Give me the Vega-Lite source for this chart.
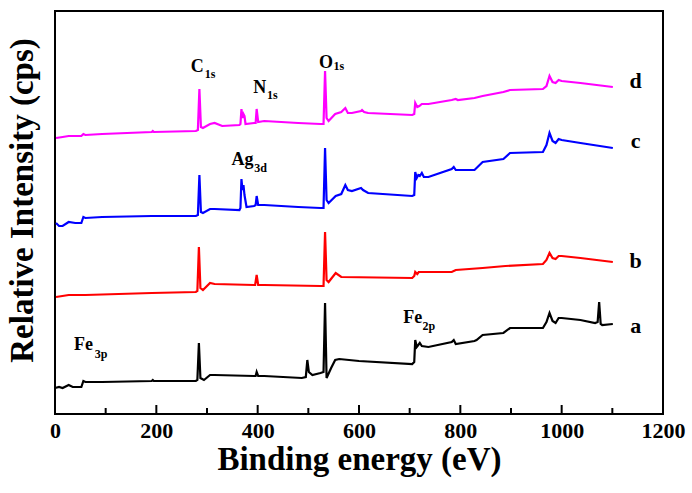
{
  "$schema": "https://vega.github.io/schema/vega-lite/v6.json",
  "width": 608,
  "height": 403,
  "autosize": {"type": "none"},
  "padding": {"left": 55, "top": 11, "right": 29, "bottom": 79},
  "background": "white",
  "config": {
    "view": {"stroke": "black", "strokeWidth": 2},
    "font": "Liberation Serif"
  },
  "datasets": {
    "spectra": [
      {"s":"d","e":2,"i":276},{"s":"d","e":15,"i":277},{"s":"d","e":27,"i":278},{"s":"d","e":52,"i":278},{"s":"d","e":56,"i":280},{"s":"d","e":60,"i":279},{"s":"d","e":93,"i":280},{"s":"d","e":191,"i":282},{"s":"d","e":193,"i":283},{"s":"d","e":195,"i":282},{"s":"d","e":278,"i":283},{"s":"d","e":282,"i":284},{"s":"d","e":285,"i":325},{"s":"d","e":288,"i":287},{"s":"d","e":292,"i":286},{"s":"d","e":306,"i":290},{"s":"d","e":315,"i":291},{"s":"d","e":330,"i":288},{"s":"d","e":364,"i":289},{"s":"d","e":366,"i":290},{"s":"d","e":368,"i":305},{"s":"d","e":370,"i":296},{"s":"d","e":372,"i":300},{"s":"d","e":374,"i":298},{"s":"d","e":376,"i":290},{"s":"d","e":393,"i":291},{"s":"d","e":396,"i":291},{"s":"d","e":398,"i":305},{"s":"d","e":401,"i":292},{"s":"d","e":413,"i":293},{"s":"d","e":480,"i":291},{"s":"d","e":524,"i":290},{"s":"d","e":530,"i":290},{"s":"d","e":533,"i":343},{"s":"d","e":536,"i":296},{"s":"d","e":540,"i":293},{"s":"d","e":553,"i":300},{"s":"d","e":565,"i":302},{"s":"d","e":573,"i":306},{"s":"d","e":578,"i":301},{"s":"d","e":586,"i":301},{"s":"d","e":604,"i":303},{"s":"d","e":606,"i":304},{"s":"d","e":610,"i":302},{"s":"d","e":618,"i":301},{"s":"d","e":705,"i":299},{"s":"d","e":709,"i":300},{"s":"d","e":711,"i":311},{"s":"d","e":715,"i":307},{"s":"d","e":719,"i":308},{"s":"d","e":724,"i":310},{"s":"d","e":737,"i":310},{"s":"d","e":783,"i":314},{"s":"d","e":791,"i":315},{"s":"d","e":795,"i":314},{"s":"d","e":828,"i":316},{"s":"d","e":844,"i":318},{"s":"d","e":885,"i":322},{"s":"d","e":898,"i":324},{"s":"d","e":963,"i":325},{"s":"d","e":970,"i":328},{"s":"d","e":976,"i":338},{"s":"d","e":982,"i":332},{"s":"d","e":988,"i":331},{"s":"d","e":994,"i":334},{"s":"d","e":1000,"i":333},{"s":"d","e":1037,"i":331},{"s":"d","e":1101,"i":327},
      {"s":"c","e":2,"i":191},{"s":"c","e":8,"i":188},{"s":"c","e":15,"i":188},{"s":"c","e":27,"i":192},{"s":"c","e":40,"i":191},{"s":"c","e":52,"i":191},{"s":"c","e":56,"i":197},{"s":"c","e":60,"i":196},{"s":"c","e":93,"i":197},{"s":"c","e":191,"i":198},{"s":"c","e":278,"i":198},{"s":"c","e":282,"i":199},{"s":"c","e":285,"i":239},{"s":"c","e":288,"i":202},{"s":"c","e":292,"i":201},{"s":"c","e":306,"i":205},{"s":"c","e":315,"i":205},{"s":"c","e":364,"i":204},{"s":"c","e":366,"i":206},{"s":"c","e":368,"i":235},{"s":"c","e":370,"i":224},{"s":"c","e":372,"i":229},{"s":"c","e":374,"i":219},{"s":"c","e":378,"i":207},{"s":"c","e":393,"i":208},{"s":"c","e":396,"i":209},{"s":"c","e":398,"i":218},{"s":"c","e":401,"i":209},{"s":"c","e":413,"i":209},{"s":"c","e":480,"i":207},{"s":"c","e":524,"i":206},{"s":"c","e":530,"i":206},{"s":"c","e":533,"i":266},{"s":"c","e":536,"i":214},{"s":"c","e":540,"i":211},{"s":"c","e":554,"i":218},{"s":"c","e":565,"i":220},{"s":"c","e":573,"i":229},{"s":"c","e":578,"i":224},{"s":"c","e":586,"i":223},{"s":"c","e":604,"i":226},{"s":"c","e":608,"i":224},{"s":"c","e":618,"i":221},{"s":"c","e":705,"i":218},{"s":"c","e":709,"i":219},{"s":"c","e":711,"i":242},{"s":"c","e":714,"i":236},{"s":"c","e":717,"i":239},{"s":"c","e":720,"i":238},{"s":"c","e":724,"i":241},{"s":"c","e":728,"i":237},{"s":"c","e":737,"i":237},{"s":"c","e":783,"i":245},{"s":"c","e":787,"i":247},{"s":"c","e":791,"i":244},{"s":"c","e":828,"i":244},{"s":"c","e":844,"i":252},{"s":"c","e":885,"i":255},{"s":"c","e":898,"i":261},{"s":"c","e":963,"i":262},{"s":"c","e":970,"i":269},{"s":"c","e":976,"i":281},{"s":"c","e":982,"i":273},{"s":"c","e":988,"i":271},{"s":"c","e":994,"i":275},{"s":"c","e":1000,"i":274},{"s":"c","e":1037,"i":271},{"s":"c","e":1101,"i":266},
      {"s":"b","e":2,"i":117},{"s":"b","e":27,"i":119},{"s":"b","e":60,"i":119},{"s":"b","e":191,"i":121},{"s":"b","e":278,"i":122},{"s":"b","e":281,"i":123},{"s":"b","e":284,"i":167},{"s":"b","e":287,"i":126},{"s":"b","e":292,"i":124},{"s":"b","e":306,"i":131},{"s":"b","e":315,"i":130},{"s":"b","e":393,"i":129},{"s":"b","e":395,"i":129},{"s":"b","e":398,"i":139},{"s":"b","e":401,"i":129},{"s":"b","e":413,"i":129},{"s":"b","e":524,"i":128},{"s":"b","e":530,"i":128},{"s":"b","e":533,"i":182},{"s":"b","e":536,"i":134},{"s":"b","e":540,"i":132},{"s":"b","e":554,"i":141},{"s":"b","e":565,"i":137},{"s":"b","e":705,"i":136},{"s":"b","e":709,"i":138},{"s":"b","e":711,"i":142},{"s":"b","e":715,"i":140},{"s":"b","e":718,"i":142},{"s":"b","e":783,"i":142},{"s":"b","e":791,"i":144},{"s":"b","e":844,"i":146},{"s":"b","e":889,"i":148},{"s":"b","e":963,"i":150},{"s":"b","e":970,"i":154},{"s":"b","e":976,"i":161},{"s":"b","e":982,"i":156},{"s":"b","e":988,"i":155},{"s":"b","e":994,"i":158},{"s":"b","e":1000,"i":158},{"s":"b","e":1037,"i":156},{"s":"b","e":1101,"i":152},
      {"s":"a","e":0,"i":26},{"s":"a","e":8,"i":27},{"s":"a","e":15,"i":26},{"s":"a","e":27,"i":29},{"s":"a","e":35,"i":27},{"s":"a","e":52,"i":27},{"s":"a","e":56,"i":33},{"s":"a","e":60,"i":32},{"s":"a","e":93,"i":32},{"s":"a","e":191,"i":33},{"s":"a","e":193,"i":34},{"s":"a","e":195,"i":33},{"s":"a","e":278,"i":33},{"s":"a","e":281,"i":34},{"s":"a","e":284,"i":71},{"s":"a","e":287,"i":36},{"s":"a","e":294,"i":34},{"s":"a","e":306,"i":39},{"s":"a","e":315,"i":39},{"s":"a","e":393,"i":38},{"s":"a","e":396,"i":38},{"s":"a","e":398,"i":42},{"s":"a","e":401,"i":38},{"s":"a","e":413,"i":38},{"s":"a","e":487,"i":36},{"s":"a","e":495,"i":37},{"s":"a","e":498,"i":54},{"s":"a","e":501,"i":42},{"s":"a","e":508,"i":39},{"s":"a","e":524,"i":41},{"s":"a","e":530,"i":42},{"s":"a","e":533,"i":111},{"s":"a","e":536,"i":36},{"s":"a","e":545,"i":46},{"s":"a","e":553,"i":54},{"s":"a","e":561,"i":55},{"s":"a","e":600,"i":53},{"s":"a","e":705,"i":50},{"s":"a","e":709,"i":52},{"s":"a","e":711,"i":74},{"s":"a","e":714,"i":67},{"s":"a","e":717,"i":69},{"s":"a","e":720,"i":71},{"s":"a","e":724,"i":68},{"s":"a","e":737,"i":67},{"s":"a","e":783,"i":72},{"s":"a","e":787,"i":74},{"s":"a","e":791,"i":70},{"s":"a","e":828,"i":73},{"s":"a","e":832,"i":74},{"s":"a","e":844,"i":79},{"s":"a","e":885,"i":81},{"s":"a","e":898,"i":86},{"s":"a","e":963,"i":86},{"s":"a","e":970,"i":92},{"s":"a","e":976,"i":101},{"s":"a","e":982,"i":93},{"s":"a","e":988,"i":91},{"s":"a","e":994,"i":96},{"s":"a","e":1000,"i":96},{"s":"a","e":1037,"i":94},{"s":"a","e":1066,"i":91},{"s":"a","e":1071,"i":92},{"s":"a","e":1074,"i":112},{"s":"a","e":1077,"i":90},{"s":"a","e":1080,"i":89},{"s":"a","e":1101,"i":90}
    ],
    "peaks": [
      {"t":"C","e":281,"i":342},{"t":"N","e":404,"i":321},{"t":"O","e":535,"i":346},{"t":"Ag","e":370,"i":249},{"t":"Fe","e":706,"i":91},{"t":"Fe","e":56,"i":64}
    ],
    "subs": [
      {"t":"1s","e":306,"i":336},{"t":"1s","e":429,"i":315},{"t":"1s","e":560,"i":344},{"t":"3d","e":406,"i":242},{"t":"2p","e":738,"i":84},{"t":"3p","e":91,"i":56}
    ],
    "samples": [
      {"t":"d","e":1146,"i":326},{"t":"c","e":1146,"i":266},{"t":"b","e":1146,"i":146},{"t":"a","e":1146,"i":81}
    ],
    "majorTicks": [
      {"e":200},{"e":400},{"e":600},{"e":800},{"e":1000}
    ],
    "minorTicks": [
      {"e":100},{"e":300},{"e":500},{"e":700},{"e":900},{"e":1100}
    ]
  },
  "layer": [
    {
      "data": {"name": "spectra"},
      "mark": {"type": "line", "strokeWidth": 2.2, "interpolate": "linear"},
      "encoding": {
        "x": {"field": "e", "type": "quantitative",
          "scale": {"domain": [0, 1200], "nice": false, "zero": false},
          "axis": {
            "orient": "bottom",
            "title": "Binding energy (eV)",
            "values": [0,200,400,600,800,1000,1200],
            "format": "d",
            "domain": false,
            "grid": false,
            "ticks": false,
            "labelFont": "Liberation Serif",
            "labelFontWeight": "bold",
            "labelFontSize": 22,
            "labelColor": "black",
            "labelPadding": 6,
            "labelFlush": false,
            "labelOverlap": false,
            "titleFont": "Liberation Serif",
            "titleFontWeight": "bold",
            "titleFontSize": 33,
            "titleColor": "black",
            "titlePadding": 2
          }
        },
        "y": {"field": "i", "type": "quantitative",
          "scale": {"domain": [0, 403], "nice": false},
          "axis": {
            "title": "Relative Intensity (cps)",
            "labels": false,
            "ticks": false,
            "domain": false,
            "grid": false,
            "titleFont": "Liberation Serif",
            "titleFontWeight": "bold",
            "titleFontSize": 33,
            "titleColor": "black",
            "titlePadding": 16,
            "titleY": 189
          }
        },
        "color": {"field": "s", "type": "nominal", "legend": null,
          "scale": {"domain": ["a","b","c","d"], "range": ["#000000","#ff0000","#0000ff","#ff00ff"]}}
      }
    },
    {
      "data": {"name": "majorTicks"},
      "mark": {"type": "rule", "color": "black", "strokeWidth": 2},
      "encoding": {
        "x": {"field": "e", "type": "quantitative"},
        "y": {"datum": 0, "type": "quantitative"},
        "y2": {"datum": 9}
      }
    },
    {
      "data": {"name": "minorTicks"},
      "mark": {"type": "rule", "color": "black", "strokeWidth": 2},
      "encoding": {
        "x": {"field": "e", "type": "quantitative"},
        "y": {"datum": 0, "type": "quantitative"},
        "y2": {"datum": 6}
      }
    },
    {
      "data": {"name": "peaks"},
      "mark": {"type": "text", "font": "Liberation Serif", "fontWeight": "bold", "fontSize": 18, "baseline": "alphabetic", "align": "center", "color": "black"},
      "encoding": {
        "x": {"field": "e", "type": "quantitative"},
        "y": {"field": "i", "type": "quantitative"},
        "text": {"field": "t"}
      }
    },
    {
      "data": {"name": "subs"},
      "mark": {"type": "text", "font": "Liberation Serif", "fontWeight": "bold", "fontSize": 12, "baseline": "alphabetic", "align": "center", "color": "black"},
      "encoding": {
        "x": {"field": "e", "type": "quantitative"},
        "y": {"field": "i", "type": "quantitative"},
        "text": {"field": "t"}
      }
    },
    {
      "data": {"name": "samples"},
      "mark": {"type": "text", "font": "Liberation Serif", "fontWeight": "bold", "fontSize": 22, "baseline": "alphabetic", "align": "center", "color": "black"},
      "encoding": {
        "x": {"field": "e", "type": "quantitative"},
        "y": {"field": "i", "type": "quantitative"},
        "text": {"field": "t"}
      }
    }
  ]
}
